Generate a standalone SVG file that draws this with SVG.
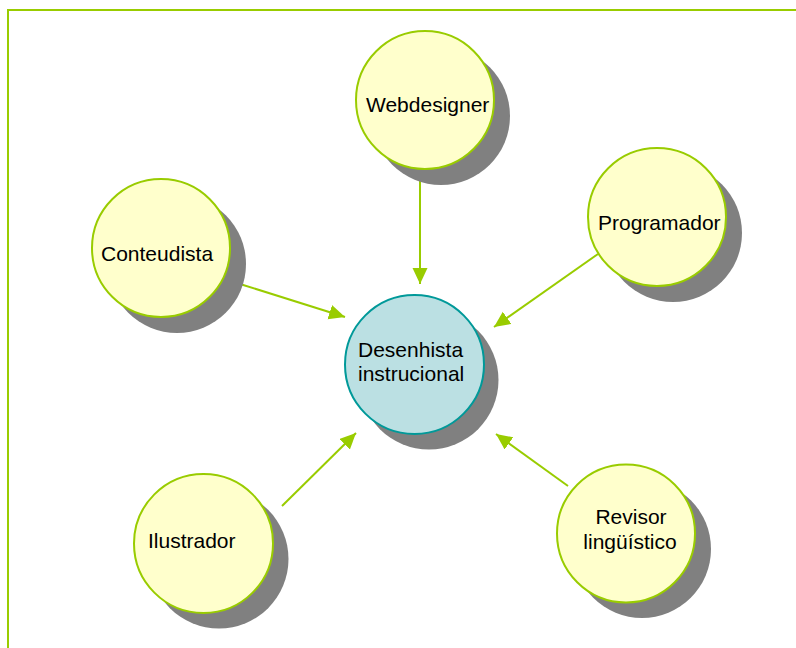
<svg xmlns="http://www.w3.org/2000/svg" width="796" height="648" viewBox="0 0 796 648">
<style>
.frame{fill:none;stroke:#99cc00;stroke-width:2}
.shadow{fill:#808080}
.node{fill:#ffffcc;stroke:#99cc00;stroke-width:2}
.center{fill:#bbe0e3;stroke:#009999;stroke-width:2}
.lbl{font-family:"Liberation Sans",Arial,sans-serif;font-size:21px;fill:#000}
.conn{stroke:#99cc00;stroke-width:2;fill:none;marker-end:url(#ah)}
</style>
<defs>
<marker id="ah" markerUnits="userSpaceOnUse" markerWidth="18" markerHeight="16" refX="16" refY="7.5" orient="auto">
<path d="M0,0 L16,7.5 L0,15 Z" fill="#99cc00"/>
</marker>
</defs>
<rect class="frame" x="8" y="10" width="800" height="650"/>
<g id="connectors">
<line class="conn" x1="420" y1="178" x2="420" y2="284"/>
<line class="conn" x1="598" y1="254" x2="494" y2="327"/>
<line class="conn" x1="240" y1="284" x2="345" y2="317"/>
<line class="conn" x1="282" y1="506" x2="356" y2="433"/>
<line class="conn" x1="568" y1="486" x2="496" y2="434"/>
</g>
<g id="webdesigner">
<circle class="shadow" cx="441" cy="116" r="69"/>
<circle class="node" cx="425" cy="100" r="69"/>
<text class="lbl" x="366" y="112">Webdesigner</text>
</g>
<g id="programador">
<circle class="shadow" cx="673" cy="233" r="69"/>
<circle class="node" cx="657" cy="217" r="69"/>
<text class="lbl" x="598" y="230">Programador</text>
</g>
<g id="conteudista">
<circle class="shadow" cx="177" cy="264" r="69"/>
<circle class="node" cx="161" cy="248" r="69"/>
<text class="lbl" x="101" y="261">Conteudista</text>
</g>
<g id="desenhista">
<circle class="shadow" cx="429" cy="380" r="69.5"/>
<circle class="center" cx="414.5" cy="364.5" r="69.5"/>
<text class="lbl" x="358" y="357">Desenhista</text>
<text class="lbl" x="358" y="381">instrucional</text>
</g>
<g id="ilustrador">
<circle class="shadow" cx="219" cy="559" r="69.5"/>
<circle class="node" cx="203.5" cy="543.5" r="69.5"/>
<text class="lbl" x="148" y="548">Ilustrador</text>
</g>
<g id="revisor">
<circle class="shadow" cx="642" cy="549" r="69"/>
<circle class="node" cx="626" cy="533.5" r="69"/>
<text class="lbl" x="631" y="524" text-anchor="middle">Revisor</text>
<text class="lbl" x="630" y="549" text-anchor="middle">lingüístico</text>
</g>
</svg>
